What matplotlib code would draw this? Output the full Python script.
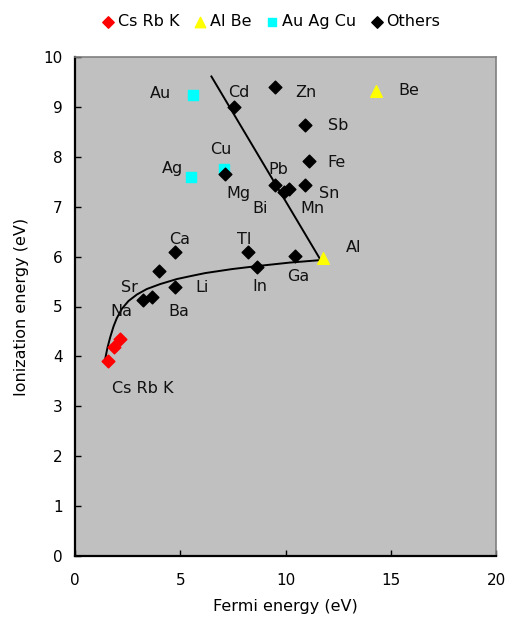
import matplotlib
matplotlib.use("Agg")
import matplotlib.pyplot as plt

# --- data ---
alk_names = ["Cs", "Rb", "K"]
alk_fermi = [1.57, 1.83, 2.14]
alk_ion = [3.90, 4.19, 4.34]

albe_names = ["Al", "Be"]
albe_fermi = [11.8, 14.3]
albe_ion = [5.97, 9.31]

noble_names = ["Au", "Ag", "Cu"]
noble_fermi = [5.60, 5.51, 7.06]
noble_ion = [9.23, 7.59, 7.75]

oth_names = ["Na", "Ba", "Sr", "Li", "Ca", "Tl", "In", "Ga", "Zn", "Cd",
             "Sb", "Fe", "Sn", "Pb", "Bi", "Mn", "Mg"]
oth_fermi = [3.25, 3.67, 3.97, 4.76, 4.76, 8.22, 8.65, 10.43, 9.52, 7.54,
             10.95, 11.10, 10.95, 9.52, 9.92, 10.19, 7.11]
oth_ion = [5.14, 5.20, 5.71, 5.39, 6.10, 6.10, 5.79, 6.01, 9.39, 8.99,
           8.64, 7.91, 7.44, 7.44, 7.29, 7.36, 7.65]

# guide curve
curve_x = [1.43, 1.54, 1.67, 1.83, 1.98, 2.22, 2.54, 2.94, 3.41, 4.05, 4.84,
           5.50, 6.19, 7.46, 8.65, 10.2, 11.67]
curve_y = [3.94, 4.17, 4.38, 4.60, 4.76, 4.95, 5.11, 5.24, 5.35, 5.45, 5.55,
           5.61, 5.67, 5.75, 5.81, 5.88, 5.93]
line_x = [6.48, 11.67]
line_y = [9.61, 5.93]

label_text = ["Au", "Cd", "Cu", "Ag", "Mg", "Bi", "Pb", "Ca", "Tl", "Zn", "Be", "Sb",
              "Fe", "Sn", "Mn", "Al", "Ga", "In", "Li", "Sr", "Na", "Ba", "Cs Rb K"]
label_x = [4.05, 7.78, 6.94, 4.65, 7.78, 8.81, 9.65, 4.95, 8.02, 10.95, 15.87, 12.49,
           12.43, 12.06, 11.27, 13.25, 10.59, 8.76, 6.03, 2.57, 2.22, 4.95, 3.22]
label_y = [9.27, 9.29, 8.15, 7.77, 7.27, 6.97, 7.75, 6.34, 6.34, 9.29, 9.33, 8.63,
           7.89, 7.26, 6.97, 6.19, 5.61, 5.41, 5.39, 5.39, 4.89, 4.89, 3.35]

plt.rcParams['font.family'] = ['DejaVu Sans']
fig = plt.figure(figsize=(5.05, 6.19), dpi=100)
ax = fig.add_axes([75/505, 1-556/619, 421/505, 499/619])
ax.set_facecolor("#c0c0c0")

ax.plot(curve_x, curve_y, color="black", lw=1.4, zorder=2,
        solid_joinstyle="round", solid_capstyle="round")
ax.plot(line_x, line_y, color="black", lw=1.4, zorder=2)

h1 = ax.scatter(alk_fermi, alk_ion, marker="D", s=42, color="#ff0000", zorder=3, label="Cs Rb K")
h2 = ax.scatter(albe_fermi, albe_ion, marker="^", s=70, color="#ffff00", zorder=3, label="Al Be")
h3 = ax.scatter(noble_fermi, noble_ion, marker="s", s=50, color="#00ffff", zorder=3, label="Au Ag Cu")
h4 = ax.scatter(oth_fermi, oth_ion, marker="D", s=42, color="black", zorder=4, label="Others")

for t, x, y in zip(label_text, label_x, label_y):
    ax.text(x, y, t, ha="center", va="center", fontsize=11.5, color="#111111")

ax.set_xlim(0, 20)
ax.set_ylim(0, 10)
ax.set_xticks([0, 5, 10, 15, 20])
ax.set_yticks(range(0, 11))
ax.tick_params(direction="in", length=4, width=1, labelsize=11, pad=12)
ax.tick_params(axis="y", pad=9)
for s in ["left", "bottom"]:
    ax.spines[s].set_linewidth(1.6)
    ax.spines[s].set_color("black")
for s in ["top", "right"]:
    ax.spines[s].set_linewidth(1.2)
    ax.spines[s].set_color("#808080")
ax.tick_params(right=False, top=False)

ax.set_xlabel("Fermi energy (eV)", fontsize=11.5, labelpad=8)
ax.set_ylabel("Ionization energy (eV)", fontsize=11.5, labelpad=10)

fig.legend(handles=[h1, h2, h3, h4], loc="center", bbox_to_anchor=(0.535, 0.965),
           ncol=4, frameon=False, fontsize=11.5, handletextpad=0.1, columnspacing=0.8,
           handlelength=1.0, markerscale=0.9)

fig.savefig("out.png", dpi=100, facecolor="white")
